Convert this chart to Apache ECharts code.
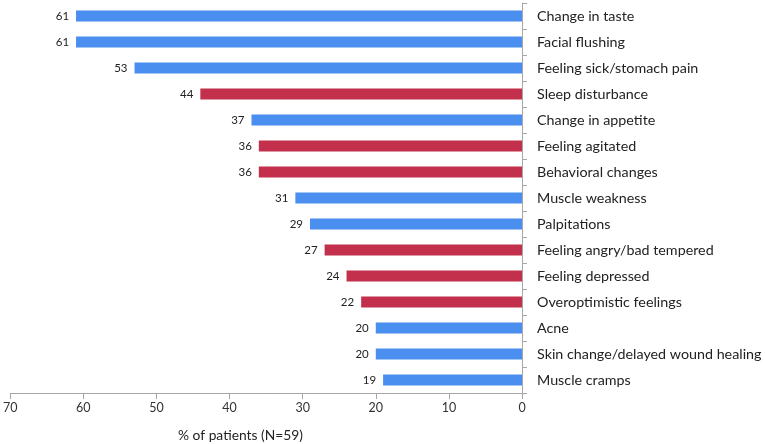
<!DOCTYPE html>
<html><head><meta charset="utf-8">
<script src="https://cdn.jsdelivr.net/npm/echarts@6/dist/echarts.min.js"></script>
<style>html,body{margin:0;padding:0;background:#fff}#c{width:765px;height:444px}</style>
</head><body><div id="c"></div>
<script>
const categories = ["Change in taste","Facial flushing","Feeling sick/stomach pain","Sleep disturbance","Change in appetite","Feeling agitated","Behavioral changes","Muscle weakness","Palpitations","Feeling angry/bad tempered","Feeling depressed","Overoptimistic feelings","Acne","Skin change/delayed wound healing","Muscle cramps"];
const values = [61,61,53,44,37,36,36,31,29,27,24,22,20,20,19];
const groups = ["b","b","b","r","b","r","r","b","b","r","r","r","b","b","b"];
const xTicks = [0,10,20,30,40,50,60,70];
const palette = {b:"#4a8ef0", r:"#c2304b"};
const chart = echarts.init(document.getElementById('c'));
chart.setOption({
  animation:false,
  grid:{left:7,right:243,top:3,bottom:51,containLabel:false},
  xAxis:{type:'value',inverse:true,min:xTicks[0],max:xTicks[xTicks.length-1],interval:10,
    splitLine:{show:false},
    axisLine:{show:true,lineStyle:{color:'#a6a6a6'}},
    axisTick:{show:true,length:6,lineStyle:{color:'#a6a6a6'}},
    axisLabel:{color:'#333',fontFamily:'Lato',fontSize:12.5,margin:8}
  },
  yAxis:{type:'category',position:'right',inverse:true,data:categories,
    axisLine:{show:true,lineStyle:{color:'#a6a6a6'}},
    axisTick:{show:true,length:5,lineStyle:{color:'#a6a6a6'}},
    axisLabel:{color:'#222',fontFamily:'Lato',fontSize:14.3,margin:15}
  },
  title:{text:'% of patients (N=59)',left:178,top:429,padding:0,textStyle:{fontFamily:'Lato',fontSize:13.8,fontWeight:'normal',color:'#222'}},
  series:[{type:'bar',barWidth:11,
    data:values.map((v,i)=>({value:v,itemStyle:{color:palette[groups[i]]}})),
    label:{show:true,position:'left',distance:7,color:'#222',fontFamily:'Lato',fontSize:11.5}
  }]
});
</script></body></html>
